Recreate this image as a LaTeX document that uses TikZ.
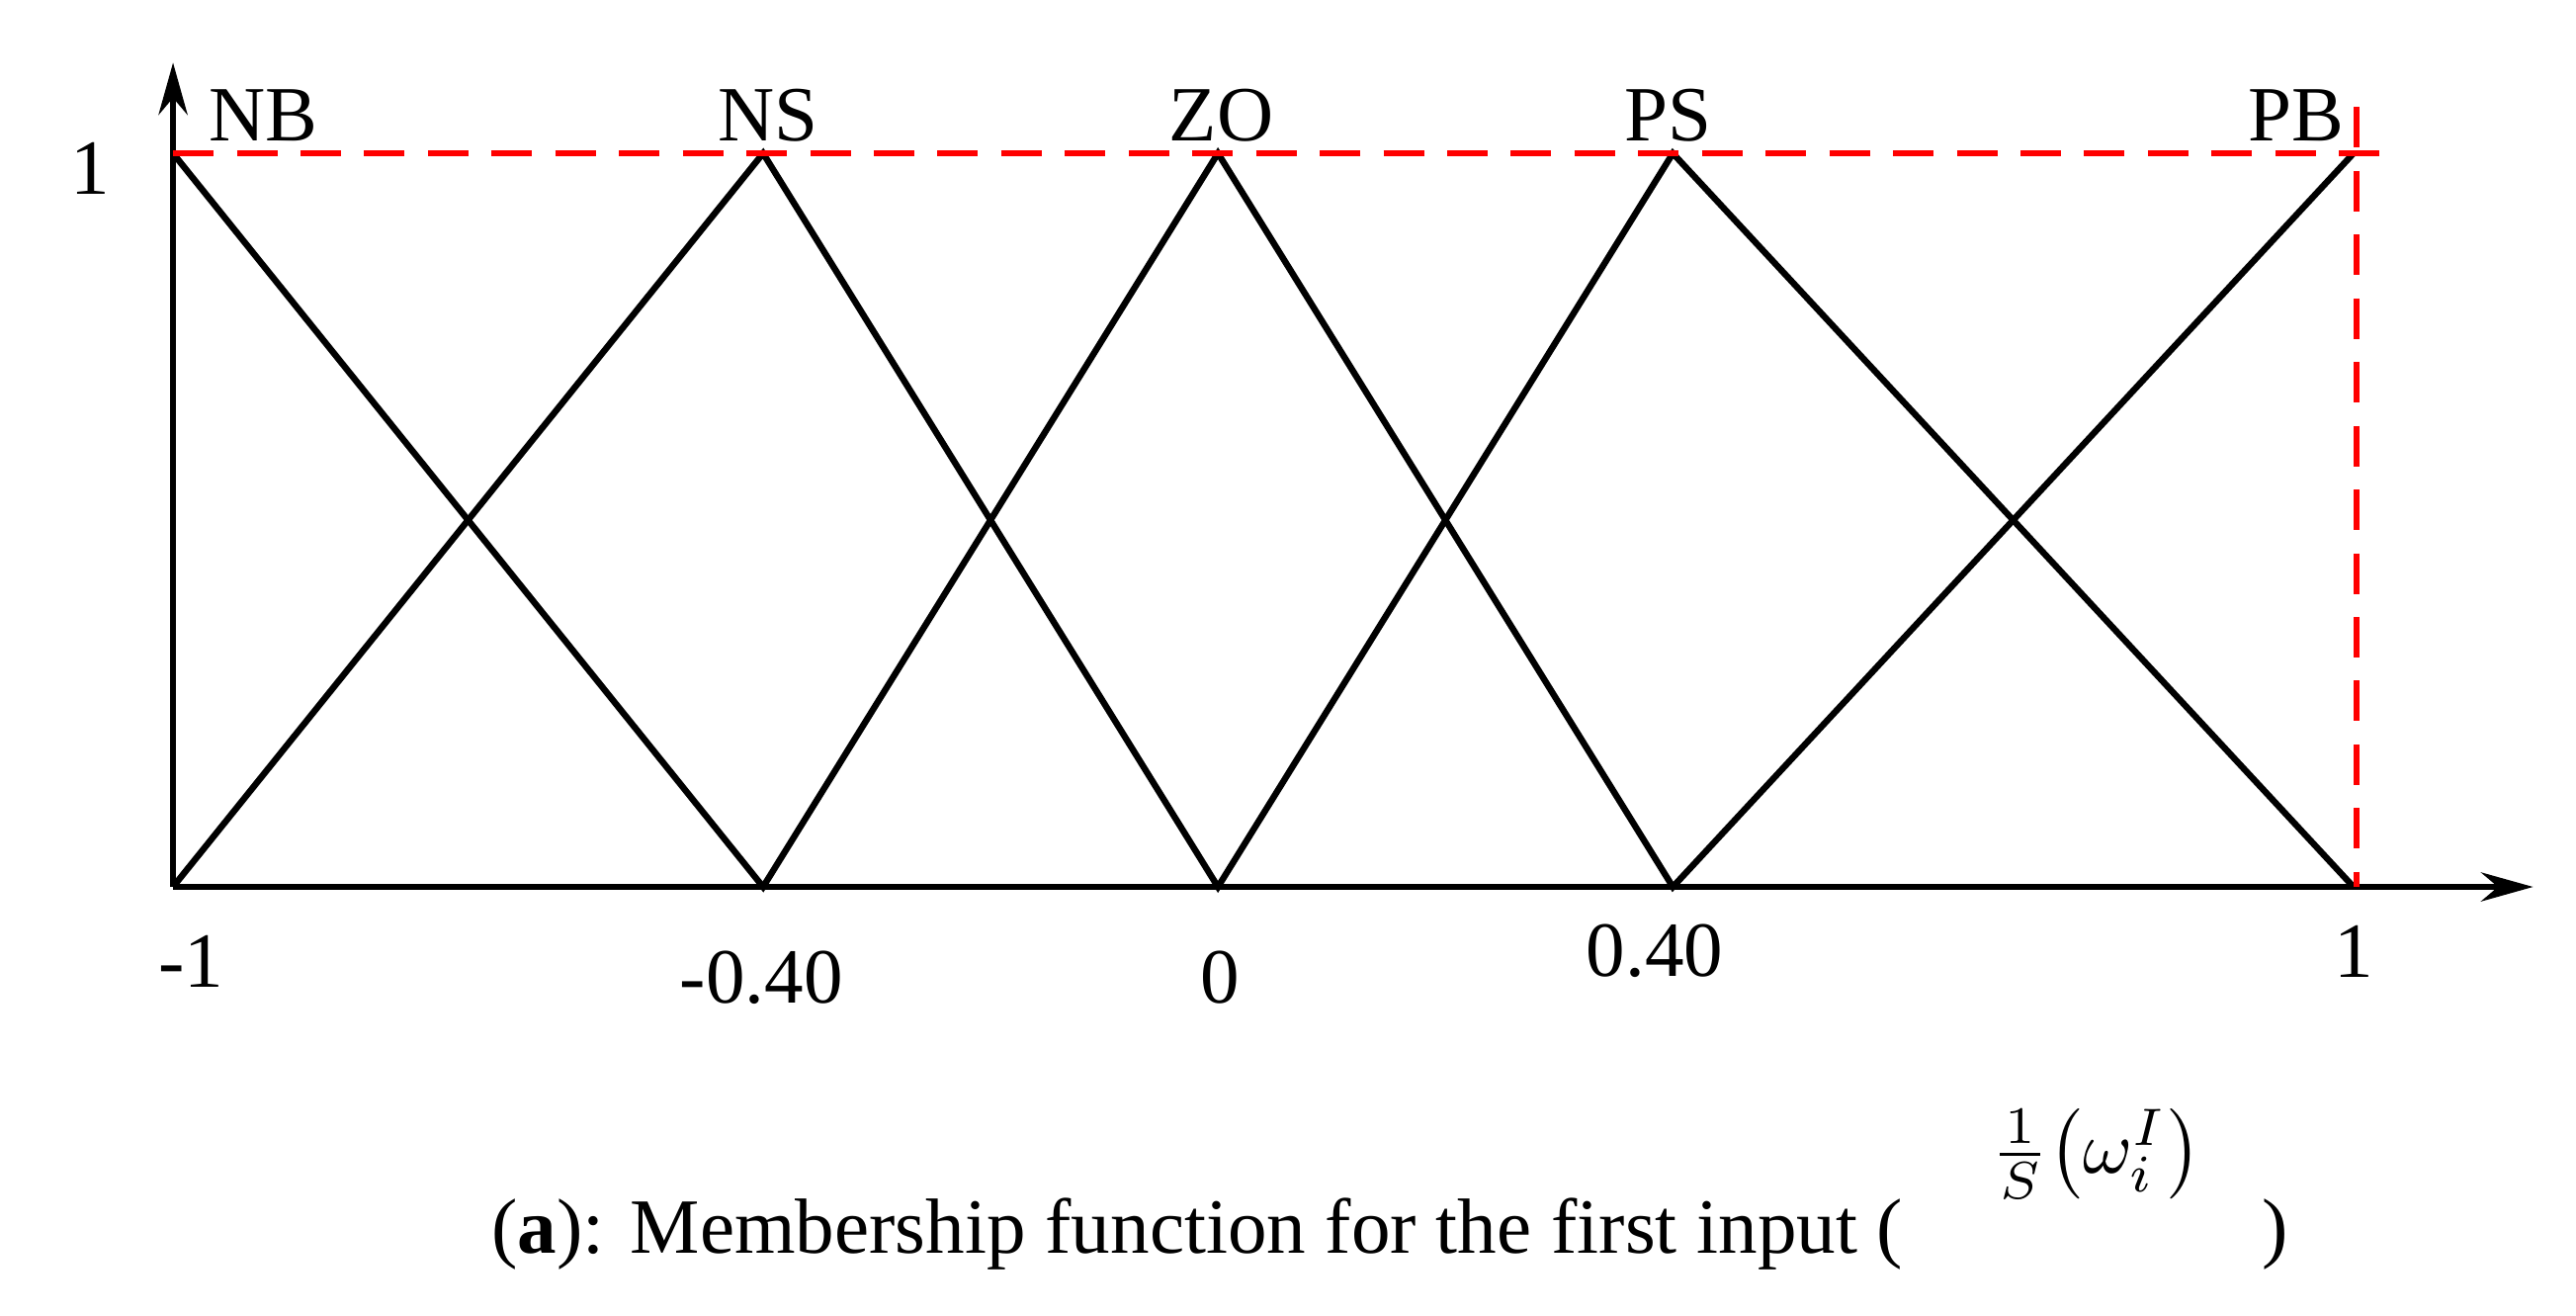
\documentclass[tikz,border=0pt]{standalone}
\usepackage{fontspec}
\setmainfont{Liberation Serif}
\usepackage{graphicx}
\usetikzlibrary{arrows.meta}
\begin{document}
\begin{tikzpicture}[x=0.02cm,y=-0.02cm,
  mf/.style={black,line width=2.2pt},
  reddash/.style={red,line width=2.2pt,dash pattern=on 14pt off 8pt},
  lab/.style={font=\fontsize{27}{30}\selectfont,inner sep=0pt},
  ax/.style={black,line width=2pt,-{Stealth[length=18pt,width=10pt]}}]
\useasboundingbox (0,0) rectangle (1563,798);
\coordinate (o) at (105,538);
\coordinate (xe) at (1537,538);
\coordinate (ye) at (105,38);
\draw[ax] (o) -- (xe);
\draw[ax] (o) -- (ye);
\coordinate (a0) at (105,538); \coordinate (a1) at (463,538); \coordinate (a2) at (739,538);
\coordinate (a3) at (1015,538); \coordinate (a4) at (1428,538);
\coordinate (t0) at (105,93); \coordinate (t1) at (463,93); \coordinate (t2) at (739,93);
\coordinate (t3) at (1015,93); \coordinate (t4) at (1428,93);
\draw[mf] (t0) -- (a1) -- (t2) -- (a3) -- (t4);
\draw[mf] (a0) -- (t1) -- (a2) -- (t3) -- (a4);
\coordinate (re) at (1453,93); \coordinate (rt) at (1430,65); \coordinate (rb) at (1430,538);
\draw[reddash] (t0) -- (re);
\draw[reddash] (rt) -- (rb);
\node[lab] (nb) at (160,70) {NB};
\node[lab] (ns) at (466,70) {NS};
\node[lab] (zo) at (741,70) {ZO};
\node[lab] (ps) at (1012,70) {PS};
\node[lab] (pb) at (1393,70) {PB};
\node[lab] (one) at (55,102) {1};
\node[lab] (xm1) at (116,583) {-1};
\node[lab] (xm4) at (462,593) {-0.40};
\node[lab] (x0) at (740,593) {0};
\node[lab] (x4) at (1004,577) {0.40};
\node[lab] (x1) at (1428,577) {1};
\node[inner sep=0pt] (frac) at (1272,700) {\scalebox{2.6}{$\frac{1}{S}\bigl(\omega_i^{I}\bigr)$}};
\node[lab,anchor=base west] (cap) at (298,760) {(\textbf{a}): Membership function for the first input (};
\node[lab,anchor=base west] (cap2) at (1372,760) {)};
\end{tikzpicture}
\end{document}
